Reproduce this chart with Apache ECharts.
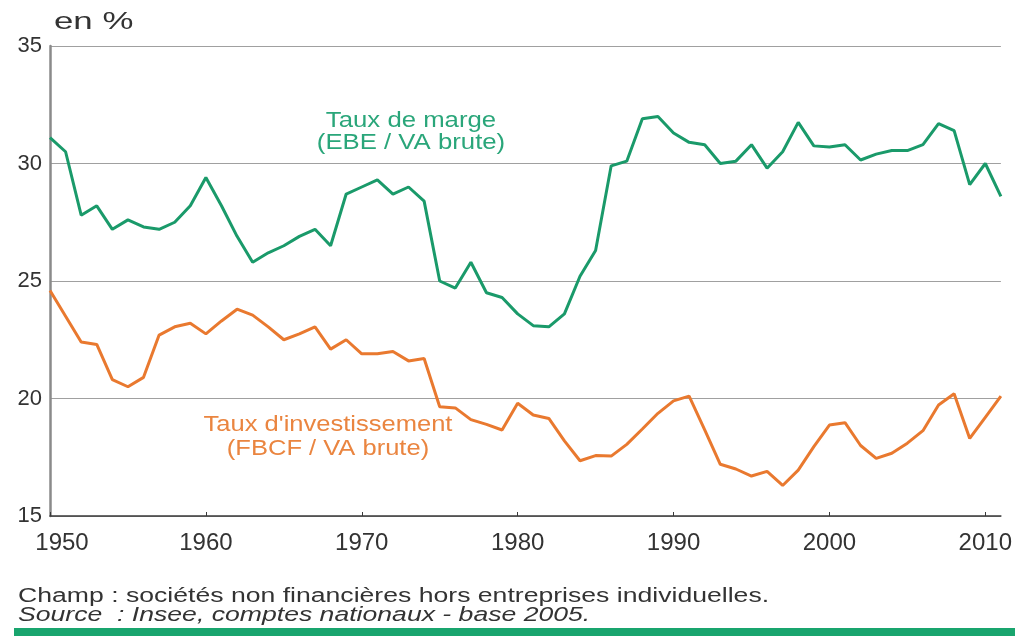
<!DOCTYPE html>
<html>
<head>
<meta charset="utf-8">
<script src="https://cdn.jsdelivr.net/npm/echarts@6/dist/echarts.min.js"></script>
<style>
  html, body { margin: 0; padding: 0; background: #fff; }
  #chart { width: 1015px; height: 637px; }
</style>
</head>
<body>
<div id="chart"></div>
<script>
// Années 1950–2011
const years = [];
for (let y = 1950; y <= 2011; y++) years.push(y);

// Taux de marge (EBE / VA brute), en %
const tauxMarge = [
  31.1, 30.5, 27.8, 28.2, 27.2, 27.6, 27.3, 27.2, 27.5, 28.2,
  29.4, 28.2, 26.9, 25.8, 26.2, 26.5, 26.9, 27.2, 26.5, 28.7,
  29.0, 29.3, 28.7, 29.0, 28.4, 25.0, 24.7, 25.8, 24.5, 24.3,
  23.6, 23.1, 23.05, 23.6, 25.2, 26.3, 29.9, 30.1, 31.9, 32.0,
  31.3, 30.9, 30.8, 30.0, 30.1, 30.8, 29.8, 30.5, 31.75, 30.75,
  30.7, 30.8, 30.15, 30.4, 30.55, 30.55, 30.8, 31.7, 31.4, 29.1,
  30.0, 28.6
];

// Taux d'investissement (FBCF / VA brute), en %
const tauxInvest = [
  24.6, 23.5, 22.4, 22.3, 20.8, 20.5, 20.9, 22.7, 23.05, 23.2,
  22.75, 23.3, 23.8, 23.55, 23.05, 22.5, 22.75, 23.05, 22.1, 22.5,
  21.9, 21.9, 22.0, 21.6, 21.7, 19.65, 19.6, 19.1, 18.9, 18.66,
  19.8, 19.3, 19.15, 18.2, 17.35, 17.57, 17.55, 18.05, 18.7, 19.37,
  19.9, 20.1, 18.66, 17.2, 17.0, 16.7, 16.9, 16.3, 16.95, 17.95,
  18.87, 18.97, 18.0, 17.45, 17.67, 18.1, 18.63, 19.72, 20.2, 18.3,
  19.2, 20.1
];

const yearTicks = [1950, 1960, 1970, 1980, 1990, 2000, 2010];

const GREEN = '#1a9a6a';
const ORANGE = '#e9792f';
const sans = "'Liberation Sans', Arial, sans-serif";

const pairs = vals => years.map((y, i) => [y, vals[i]]);

const chart = echarts.init(document.getElementById('chart'));
chart.setOption({
  backgroundColor: '#ffffff',
  animation: false,
  grid: { left: 50, right: 10, top: 46, bottom: 121, containLabel: false },
  xAxis: {
    type: 'value',
    min: 1950,
    max: 2011,
    interval: 10,
    axisLine: { show: true, lineStyle: { color: '#3a3a3a', width: 1.5 } },
    axisTick: { show: true, inside: true, length: 4, customValues: yearTicks, lineStyle: { color: '#3a3a3a' } },
    axisLabel: {
      customValues: yearTicks,
      color: '#333',
      fontFamily: sans,
      fontSize: 24,
      margin: 15,
      formatter: v => (v === 1950 ? '{first|1950}' : String(v)),
      rich: {
        first: { fontFamily: sans, fontSize: 24, color: '#333', padding: [0, 0, 0, 24] }
      }
    },
    splitLine: { show: false }
  },
  yAxis: {
    type: 'value',
    min: 15,
    max: 35,
    interval: 5,
    axisLine: { show: true, onZero: false, lineStyle: { color: '#8a8a8a', width: 2.5 } },
    axisTick: { show: false },
    axisLabel: { color: '#333', fontFamily: sans, fontSize: 22, margin: 8 },
    splitLine: { show: true, lineStyle: { color: '#a0a0a0', width: 1.2 } }
  },
  series: [
    {
      name: 'Taux de marge',
      type: 'line',
      data: pairs(tauxMarge),
      symbol: 'none',
      lineStyle: { color: GREEN, width: 3 },
      z: 3
    },
    {
      name: "Taux d'investissement",
      type: 'line',
      data: pairs(tauxInvest),
      symbol: 'none',
      lineStyle: { color: ORANGE, width: 3 },
      z: 3
    }
  ],
  graphic: [
    { type: 'text', x: 54, y: 10, scaleX: 1.45,
      style: { text: 'en %', fill: '#333', font: "24px " + sans } },
    { type: 'text', x: 411, y: 110, scaleX: 1.17,
      style: { text: 'Taux de marge\n(EBE / VA brute)', fill: '#2aa67a', font: "22px " + sans,
               align: 'center', lineHeight: 22 } },
    { type: 'text', x: 328, y: 413, scaleX: 1.16,
      style: { text: "Taux d'investissement\n(FBCF / VA brute)", fill: '#ea8540', font: "22px " + sans,
               align: 'center', lineHeight: 24 } },
    { type: 'text', x: 18, y: 586, scaleX: 1.33,
      style: { text: 'Champ : sociétés non financières hors entreprises individuelles.', fill: '#333',
               font: "20px " + sans } },
    { type: 'text', x: 18, y: 605, scaleX: 1.33,
      style: { text: 'Source  : Insee, comptes nationaux - base 2005.', fill: '#333',
               font: "italic 20px " + sans } },
    { type: 'rect', shape: { x: 14, y: 628, width: 1001, height: 8 },
      style: { fill: '#19a56e' } }
  ]
});
</script>
</body>
</html>
